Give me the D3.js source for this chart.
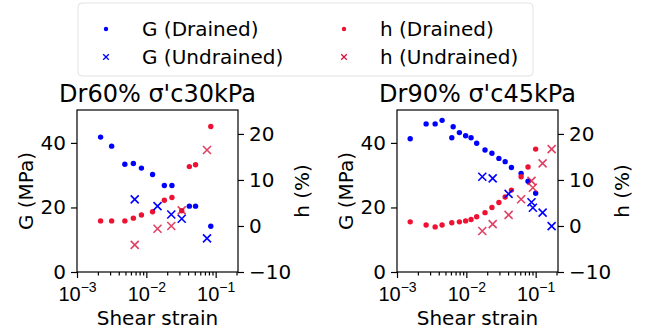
<!DOCTYPE html>
<html>
<head>
<meta charset="utf-8">
<script src="https://cdn.jsdelivr.net/npm/d3@7"></script>
<style>
  html, body { margin: 0; padding: 0; background: #fff; }
  svg { display: block; }
</style>
</head>
<body>
<svg id="chart"></svg>
<script>
// ---- data ----
const panelTitles = ["Dr60% σ'c30kPa", "Dr90% σ'c45kPa"];

// Dr60% σ'c30kPa
const dr60StrainG = [0.00219, 0.00316, 0.0049, 0.0065, 0.0085, 0.0123, 0.0182, 0.0234, 0.0417, 0.0513, 0.0851];
const dr60GDrained = [41.8, 39.0, 33.4, 33.6, 32.2, 30.2, 26.8, 26.8, 20.4, 20.4, 14.2];
const dr60StrainH = [0.00219, 0.00316, 0.0049, 0.0065, 0.0085, 0.0123, 0.0182, 0.0234, 0.0324, 0.0417, 0.0513, 0.0851];
const dr60HDrained = [1.1, 1.1, 1.1, 1.7, 2.4, 3.1, 5.6, 6.2, 3.3, 12.9, 13.3, 21.6];
const dr60StrainUnd = [0.0068, 0.0145, 0.0229, 0.0324, 0.0750];
const dr60GUndrained = [22.5, 20.4, 17.8, 16.5, 10.4];
const dr60HUndrained = [-4.1, -0.6, 0.0, 3.4, 16.5];

// Dr90% σ'c45kPa
const dr90StrainG = [0.00155, 0.00263, 0.00355, 0.00447, 0.00617, 0.00646, 0.00794, 0.00977, 0.0117, 0.0141, 0.0186, 0.0234, 0.0295, 0.0363, 0.0447, 0.0617, 0.0776, 0.1];
const dr90GDrained = [41.3, 45.9, 45.9, 47.0, 41.6, 45.0, 43.2, 42.2, 41.6, 39.9, 37.8, 36.8, 35.2, 34.2, 32.4, 30.5, 28.1, 24.4];
const dr90StrainH = [0.00155, 0.00263, 0.00355, 0.00447, 0.00617, 0.00794, 0.00977, 0.0117, 0.0141, 0.0186, 0.0234, 0.0295, 0.0363, 0.0447, 0.0617, 0.0776, 0.1];
const dr90HDrained = [0.9, 0.2, -0.2, 0.2, 0.7, 0.9, 1.1, 1.4, 2.0, 2.9, 4.0, 5.1, 6.3, 7.8, 10.7, 12.8, 16.7];
const dr90StrainGUnd = [0.017, 0.024, 0.0407, 0.0871, 0.0912, 0.126, 0.170];
const dr90GUndrained = [29.5, 29.0, 24.2, 21.6, 19.9, 18.4, 14.2];
const dr90StrainHUnd = [0.017, 0.024, 0.0407, 0.0617, 0.0871, 0.0912, 0.126, 0.170];
const dr90HUndrained = [-1.1, 0.4, 2.4, 5.8, 9.8, 8.3, 13.6, 16.7];

const gTicks = [0, 20, 40];
const hTicks = [-10, 0, 10, 20];
const xTicks = [1e-3, 1e-2, 1e-1];
const legendLabels = ["G (Drained)", "G (Undrained)", "h (Drained)", "h (Undrained)"];

// ---- layout ----
const W = 650, H = 329;
const FONT = "DejaVu Sans, sans-serif";
const FS = 20;
const BLUE = "#0000ff", RED = "#ee1133", CRIMSON = "#d8123c";
const pw = 161, ph = 162, panelTop = 110;
const lefts = [77, 397];

const svg = d3.select("#chart").attr("width", W).attr("height", H)
  .style("font-family", FONT);

const x = d3.scaleLog().domain([1e-3, 0.21]).range([0, pw]);
const yG = d3.scaleLinear().domain([0, 50.2]).range([ph, 0]);
const yH = d3.scaleLinear().domain([-10, 25.2]).range([ph, 0]);

function dots(g, xs, ys, yScale, color) {
  g.append("g").selectAll("circle")
    .data(xs.map((d, i) => [d, ys[i]])).join("circle")
    .attr("cx", d => x(d[0])).attr("cy", d => yScale(d[1]))
    .attr("r", 2.7).attr("fill", color);
}

function crosses(g, xs, ys, yScale, color, s = 4, op = 1) {
  g.append("g").selectAll("path")
    .data(xs.map((d, i) => [d, ys[i]])).join("path")
    .attr("d", d => {
      const cx = x(d[0]), cy = yScale(d[1]);
      return `M${cx - s},${cy - s}L${cx + s},${cy + s}M${cx - s},${cy + s}L${cx + s},${cy - s}`;
    })
    .attr("stroke", color).attr("stroke-width", 1.6).attr("fill", "none")
    .attr("stroke-opacity", op);
}

function styleAxis(ax) {
  ax.select(".domain").remove();
  ax.selectAll(".tick line").attr("stroke", "#000").attr("stroke-width", 1.2);
  ax.selectAll(".tick text").attr("fill", "#000").style("font-size", FS + "px").style("font-family", FONT);
}

function drawPanel(i, d) {
  const g = svg.append("g").attr("transform", `translate(${lefts[i]},${panelTop})`);

  // title
  g.append("text")
    .attr("x", pw / 2).attr("y", -8)
    .attr("text-anchor", "middle")
    .style("font-size", "24px")
    .text(panelTitles[i]);

  // left axis G
  g.append("g")
    .call(d3.axisLeft(yG).tickValues(gTicks).tickSize(6).tickPadding(5))
    .call(styleAxis);

  // right axis h
  g.append("g").attr("transform", `translate(${pw},0)`)
    .call(d3.axisRight(yH).tickValues(hTicks).tickSize(6).tickPadding(5)
      .tickFormat(v => v < 0 ? "\u2212" + Math.abs(v) : v))
    .call(styleAxis);

  // bottom axis: majors with 10^n labels, plus minors
  const minors = [];
  [-3, -2, -1].forEach(e => {
    for (let k = 2; k <= 9; k++) {
      const v = k * Math.pow(10, e);
      if (v <= x.domain()[1]) minors.push(v);
    }
  });
  g.append("g").attr("transform", `translate(0,${ph})`)
    .call(d3.axisBottom(x).tickValues(minors).tickSize(3.5).tickFormat(""))
    .call(styleAxis);
  const bx = g.append("g").attr("transform", `translate(0,${ph})`)
    .call(d3.axisBottom(x).tickValues(xTicks).tickSize(6).tickPadding(7).tickFormat(""))
    .call(styleAxis);
  bx.selectAll(".tick").append("text")
    .attr("y", 29).attr("text-anchor", "middle")
    .attr("fill", "#000")
    .style("font-size", FS + "px")
    .each(function(v) {
      const t = d3.select(this);
      t.append("tspan").text("10");
      t.append("tspan").attr("dy", -9).style("font-size", "14px")
        .text("\u2212" + Math.round(-Math.log10(v)));
    });

  // axis labels
  g.append("text")
    .attr("x", pw / 2).attr("y", ph + 53)
    .attr("text-anchor", "middle")
    .style("font-size", FS + "px")
    .text("Shear strain");
  g.append("text")
    .attr("transform", `translate(-51,${ph / 2}) rotate(-90)`)
    .attr("text-anchor", "middle").attr("dy", "0.35em")
    .style("font-size", FS + "px")
    .text("G (MPa)");
  g.append("text")
    .attr("transform", `translate(${pw + 64},${ph / 2}) rotate(-90)`)
    .attr("text-anchor", "middle").attr("dy", "0.35em")
    .style("font-size", FS + "px")
    .text("h (%)");

  // data
  dots(g, d.sG, d.gD, yG, BLUE);
  dots(g, d.sH, d.hD, yH, RED);
  crosses(g, d.sGU, d.gU, yG, BLUE);
  crosses(g, d.sHU, d.hU, yH, CRIMSON, 4, 0.8);

  // frame
  g.append("rect")
    .attr("width", pw).attr("height", ph)
    .attr("fill", "none").attr("stroke", "#000").attr("stroke-width", 1.2);
}

drawPanel(0, { sG: dr60StrainG, gD: dr60GDrained, sH: dr60StrainH, hD: dr60HDrained,
               sGU: dr60StrainUnd, gU: dr60GUndrained, sHU: dr60StrainUnd, hU: dr60HUndrained });
drawPanel(1, { sG: dr90StrainG, gD: dr90GDrained, sH: dr90StrainH, hD: dr90HDrained,
               sGU: dr90StrainGUnd, gU: dr90GUndrained, sHU: dr90StrainHUnd, hU: dr90HUndrained });

// figure legend
const leg = svg.append("g");
leg.append("rect")
  .attr("x", 78).attr("y", 3).attr("width", 455).attr("height", 73).attr("rx", 4)
  .attr("fill", "#fff").attr("fill-opacity", 0.8)
  .attr("stroke", "#e2e2e2").attr("stroke-width", 1);
const legItems = [
  { lbl: legendLabels[0], col: BLUE, mark: "dot", cx: 106, cy: 29 },
  { lbl: legendLabels[1], col: BLUE, mark: "x", cx: 106, cy: 57 },
  { lbl: legendLabels[2], col: RED, mark: "dot", cx: 344, cy: 29 },
  { lbl: legendLabels[3], col: CRIMSON, mark: "x", cx: 344, cy: 57 }
];
legItems.forEach(it => {
  if (it.mark === "dot") {
    leg.append("circle").attr("cx", it.cx).attr("cy", it.cy).attr("r", 2.2).attr("fill", it.col);
  } else {
    const s = 2.8;
    leg.append("path")
      .attr("d", `M${it.cx - s},${it.cy - s}L${it.cx + s},${it.cy + s}M${it.cx - s},${it.cy + s}L${it.cx + s},${it.cy - s}`)
      .attr("stroke", it.col).attr("stroke-width", 1.3);
  }
  leg.append("text")
    .attr("x", it.cx + 36).attr("y", it.cy).attr("dy", "0.35em")
    .style("font-size", FS + "px")
    .text(it.lbl);
});
</script>
</body>
</html>
